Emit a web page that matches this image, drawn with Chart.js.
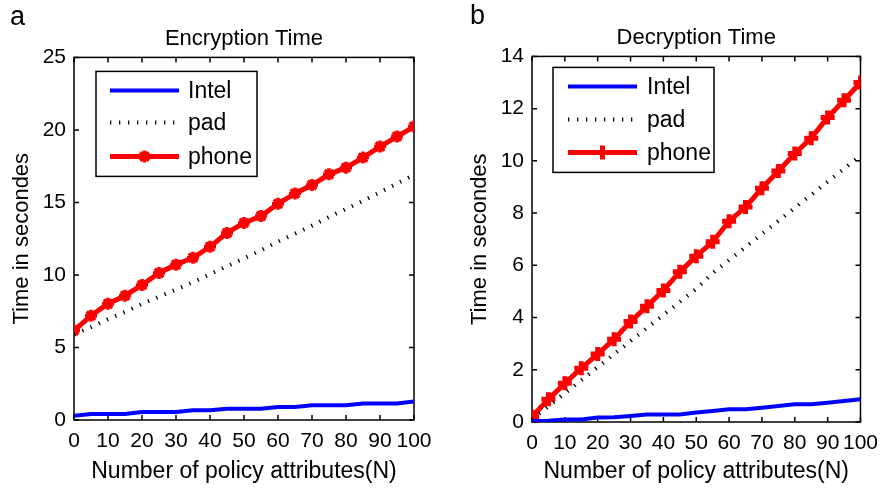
<!DOCTYPE html>
<html>
<head>
<meta charset="utf-8">
<script src="https://cdn.jsdelivr.net/npm/chart.js@4.4.0/dist/chart.umd.min.js"></script>
<style>
html, body { margin: 0; padding: 0; background: #fff; }
#wrap { position: relative; width: 887px; height: 492px; }
canvas { position: absolute; top: 0; }
</style>
</head>
<body>
<div id="wrap">
  <canvas id="encChart" width="443" height="492" style="left:0"></canvas>
  <canvas id="decChart" width="444" height="492" style="left:443px"></canvas>
</div>
<script>
// number of policy attributes
const attrs = [0, 5, 10, 15, 20, 25, 30, 35, 40, 45, 50, 55, 60, 65, 70, 75, 80, 85, 90, 95, 100];

// encryption time (s)
const encIntel = [0.3, 0.42, 0.42, 0.42, 0.55, 0.55, 0.55, 0.68, 0.68, 0.78, 0.78, 0.78, 0.9, 0.9, 1.02, 1.02, 1.02, 1.13, 1.13, 1.13, 1.27];
const encPad = [5.9, 6.4, 6.95, 7.45, 8.0, 8.5, 9.0, 9.5, 10.05, 10.6, 11.15, 11.7, 12.3, 12.85, 13.4, 14.0, 14.55, 15.1, 15.7, 16.3, 16.9];
const encPhone = [6.17, 7.19, 8.02, 8.57, 9.31, 10.14, 10.71, 11.18, 11.94, 12.9, 13.59, 14.06, 14.91, 15.62, 16.2, 16.94, 17.4, 18.09, 18.85, 19.54, 20.23];

// decryption time (s)
const decIntel = [0.04, 0.05, 0.1, 0.1, 0.17, 0.18, 0.23, 0.29, 0.29, 0.29, 0.36, 0.42, 0.49, 0.49, 0.55, 0.61, 0.68, 0.68, 0.74, 0.8, 0.87];
const decPad = [0.1, 0.6, 1.1, 1.6, 2.1, 2.6, 3.1, 3.6, 4.1, 4.6, 5.1, 5.7, 6.2, 6.7, 7.2, 7.7, 8.2, 8.7, 9.2, 9.7, 10.2];
const decPhone = [0.2, 0.87, 1.48, 2.06, 2.6, 3.17, 3.85, 4.43, 5.04, 5.75, 6.35, 6.9, 7.69, 8.23, 8.95, 9.61, 10.28, 10.87, 11.66, 12.32, 13.0];

// tick labels
const xTicks = [0, 10, 20, 30, 40, 50, 60, 70, 80, 90, 100];
const encTicks = [0, 5, 10, 15, 20, 25];
const decTicks = [0, 2, 4, 6, 8, 10, 12, 14];

const FONT = "'Liberation Sans', Arial, Helvetica, sans-serif";

function pts(ys) {
    return attrs.map((x, i) => ({x: x, y: ys[i]}));
}

// MATLAB style box with inward ticks on all four sides
const frame = {
    id: 'frame',
    beforeDatasetsDraw(chart) {
        const {ctx, chartArea: a, scales: {x, y}} = chart;
        ctx.save();
        ctx.strokeStyle = '#000';
        ctx.lineWidth = 1.5;
        ctx.strokeRect(a.left, a.top, a.right - a.left, a.bottom - a.top);
        ctx.beginPath();
        x.ticks.forEach(t => {
            const px = x.getPixelForValue(t.value);
            ctx.moveTo(px, a.bottom); ctx.lineTo(px, a.bottom - 5);
            ctx.moveTo(px, a.top); ctx.lineTo(px, a.top + 5);
        });
        y.ticks.forEach(t => {
            const py = y.getPixelForValue(t.value);
            ctx.moveTo(a.left, py); ctx.lineTo(a.left + 5, py);
            ctx.moveTo(a.right, py); ctx.lineTo(a.right - 5, py);
        });
        ctx.stroke();
        ctx.restore();
    }
};

// legend box inside the plot area
const boxLegend = {
    id: 'boxLegend',
    afterDatasetsDraw(chart, args, opts) {
        const {ctx, chartArea: a} = chart;
        const bx = a.left + opts.x, by = a.top + opts.y;
        ctx.save();
        ctx.fillStyle = '#fff';
        ctx.fillRect(bx, by, opts.w, opts.h);
        ctx.strokeStyle = '#000';
        ctx.lineWidth = 1.5;
        ctx.strokeRect(bx, by, opts.w, opts.h);
        chart.data.datasets.forEach((ds, i) => {
            const ry = by + opts.rows[i];
            ctx.save();
            ctx.strokeStyle = ds.borderColor;
            ctx.lineWidth = ds.borderWidth;
            ctx.lineCap = 'butt';
            ctx.setLineDash(ds.borderDash || []);
            ctx.beginPath();
            ctx.moveTo(bx + opts.line[0], ry);
            ctx.lineTo(bx + opts.line[1], ry);
            ctx.stroke();
            ctx.restore();
            if (ds.pointRadius > 0) {
                ctx.save();
                ctx.fillStyle = ds.pointBackgroundColor;
                ctx.strokeStyle = ds.pointBorderColor;
                ctx.lineWidth = ds.pointBorderWidth;
                Chart.helpers.drawPoint(ctx, {pointStyle: ds.pointStyle, radius: ds.pointRadius, borderWidth: ds.pointBorderWidth, rotation: 0},
                    bx + (opts.line[0] + opts.line[1]) / 2, ry);
                ctx.restore();
            }
            ctx.fillStyle = '#000';
            ctx.font = '23px ' + FONT;
            ctx.textBaseline = 'middle';
            ctx.fillText(ds.label, bx + opts.textX, ry + 1);
        });
        ctx.restore();
    }
};

// panel letter (a / b)
const panelTag = {
    id: 'panelTag',
    afterDraw(chart, args, opts) {
        const ctx = chart.ctx;
        ctx.save();
        ctx.fillStyle = '#000';
        ctx.font = '27px ' + FONT;
        ctx.textBaseline = 'middle';
        ctx.fillText(opts.text, opts.x, opts.y);
        ctx.restore();
    }
};

function makeChart(id, cfg) {
    return new Chart(document.getElementById(id), {
        type: 'line',
        data: {
            datasets: [{
                label: 'Intel',
                data: pts(cfg.intel),
                borderColor: '#0000ff',
                borderWidth: 4,
                pointRadius: 0
            }, {
                label: 'pad',
                data: pts(cfg.pad),
                borderColor: '#000',
                borderWidth: 4,
                borderDash: [1.3, 7.7],
                borderCapStyle: 'butt',
                pointRadius: 0
            }, {
                label: 'phone',
                data: pts(cfg.phone),
                borderColor: '#ff0000',
                borderWidth: 5,
                pointStyle: cfg.marker,
                pointRadius: cfg.markerSize,
                pointBorderWidth: cfg.markerWidth,
                pointBackgroundColor: '#ff0000',
                pointBorderColor: '#ff0000'
            }]
        },
        options: {
            responsive: false,
            animation: false,
            events: [],
            tension: 0,
            layout: {padding: {left: 0, right: cfg.padRight, top: 0, bottom: 0}},
            scales: {
                x: {
                    type: 'linear',
                    min: 0, max: 100,
                    afterBuildTicks: s => { s.ticks = xTicks.map(v => ({value: v})); },
                    afterFit: s => { s.height = cfg.xHeight; },
                    grid: {display: false, drawTicks: false},
                    border: {display: false},
                    ticks: {color: '#000', font: {family: FONT, size: 21}, padding: 9,
                        maxRotation: 0, autoSkip: false},
                    title: {display: true, text: 'Number of policy attributes(N)', color: '#000',
                        font: {family: FONT, size: 23}, padding: {top: 0, bottom: 7}}
                },
                y: {
                    min: 0, max: cfg.ticks[cfg.ticks.length - 1],
                    afterBuildTicks: s => { s.ticks = cfg.ticks.map(v => ({value: v})); },
                    afterFit: s => { s.width = cfg.yWidth; },
                    grid: {display: false, drawTicks: false},
                    border: {display: false},
                    ticks: {color: '#000', font: {family: FONT, size: 21}, padding: 8, autoSkip: false},
                    title: {display: true, text: 'Time in secondes', color: '#000',
                        font: {family: FONT, size: 22}, padding: {top: cfg.yTitlePad, bottom: 0}}
                }
            },
            plugins: {
                legend: {display: false},
                tooltip: {enabled: false},
                title: {display: true, text: cfg.title, color: '#000', fullSize: false,
                    font: {family: FONT, size: 22, weight: 'normal'},
                    padding: {top: cfg.titleTop, bottom: 5}},
                boxLegend: cfg.legend,
                panelTag: cfg.tag
            }
        },
        plugins: [frame, boxLegend, panelTag]
    });
}

makeChart('encChart', {
    intel: encIntel, pad: encPad, phone: encPhone, ticks: encTicks,
    marker: 'star', markerSize: 6, markerWidth: 3.5, title: 'Encryption Time',
    padRight: 29, xHeight: 72, yWidth: 74, yTitlePad: 9, titleTop: 26,
    legend: {x: 22, y: 14, w: 161, h: 105, rows: [19, 51, 85], line: [14, 83], textX: 92},
    tag: {text: 'a', x: 10, y: 18}
});

makeChart('decChart', {
    intel: decIntel, pad: decPad, phone: decPhone, ticks: decTicks,
    marker: 'cross', markerSize: 7, markerWidth: 5, title: 'Decryption Time',
    padRight: 21, xHeight: 70, yWidth: 89, yTitlePad: 24, titleTop: 25,
    legend: {x: 21, y: 11, w: 161, h: 105, rows: [19, 52, 85], line: [15, 84], textX: 94},
    tag: {text: 'b', x: 27, y: 17}
});
</script>
</body>
</html>
